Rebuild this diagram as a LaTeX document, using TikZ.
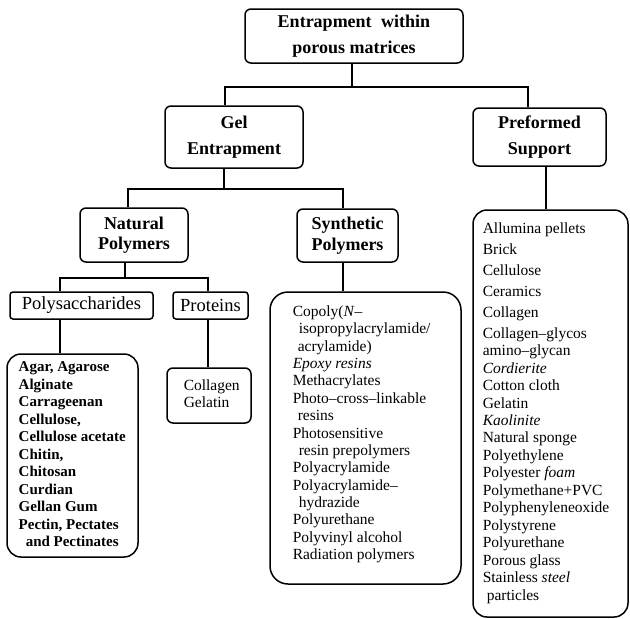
\documentclass[tikz,border=0pt]{standalone}
\usepackage{fontspec}
\setmainfont{Liberation Serif}
\begin{document}
\begin{tikzpicture}[x=1pt,y=-1pt,line width=1.5pt,
  box/.style={draw,rounded corners=6pt,align=center,inner sep=0pt},
  hdr/.style={box,font=\bfseries\fontsize{18}{26}\selectfont},
  hdrtight/.style={box,font=\bfseries\fontsize{18}{20.5}\selectfont},
  subbox/.style={box,rounded corners=3pt,font=\fontsize{18.5}{20}\selectfont},
  listbox/.style={draw,inner sep=0pt},
  listtxt/.style={anchor=north west,inner sep=0pt,align=left,font=\fontsize{15.5}{17.45}\selectfont}]
\useasboundingbox (0,0) rectangle (630,619);

% header boxes
\node[hdr,minimum width=218,minimum height=54] (top) at (354,36) {Entrapment\hspace{5pt} within\\porous matrices};
\node[hdr,minimum width=138,minimum height=62] (gel) at (234,137) {Gel\\Entrapment};
\node[hdr,minimum width=133,minimum height=58] (pre) at (539.5,137) {Preformed\\Support};
\node[hdrtight,minimum width=108,minimum height=54] (nat) at (134,235) {Natural\\Polymers};
\node[hdrtight,minimum width=101,minimum height=53] (syn) at (347.5,235.5) {Synthetic\\Polymers};
\node[subbox,minimum width=143,minimum height=27] (poly) at (81.5,305.5) {Polysaccharides};
\node[subbox,minimum width=75,minimum height=27] (prot) at (210.5,305.5) {Proteins};

% list boxes
\node[listbox,rounded corners=14pt,minimum width=131,minimum height=203] (agarbox) at (72.5,455.5) {};
\node[listbox,rounded corners=6pt,minimum width=84,minimum height=55] (protbox) at (209,395.5) {};
\node[listbox,rounded corners=18pt,minimum width=191,minimum height=292] (synbox) at (365.5,438) {};
\node[listbox,rounded corners=14pt,minimum width=155,minimum height=407] (prebox) at (550.5,413.5) {};

% list texts
\node[listtxt,font=\bfseries\fontsize{15}{17.5}\selectfont] (agartxt) at (18,361) {Agar, Agarose\\Alginate\\Carrageenan\\Cellulose,\\Cellulose acetate\\Chitin,\\Chitosan\\Curdian\\Gellan Gum\\Pectin, Pectates\\\hspace{7pt}and Pectinates};
\node[listtxt] (prottxt) at (183,379) {Collagen\\Gelatin};
\node[listtxt,font=\fontsize{15.5}{17.36}\selectfont] (syntxt) at (292,305) {Copoly(\textit{N}--\\\hspace{6pt}isopropylacrylamide/\\\hspace{5pt}acrylamide)\\\textit{Epoxy resins}\\Methacrylates\\Photo--cross--linkable\\\hspace{5pt}resins\\Photosensitive\\\hspace{6pt}resin prepolymers\\Polyacrylamide\\Polyacrylamide--\\\hspace{6pt}hydrazide\\Polyurethane\\Polyvinyl alcohol\\Radiation polymers};
\node[listtxt] (pretxt) at (482,222) {Allumina pellets\\[3.5pt]Brick\\[3.5pt]Cellulose\\[3.5pt]Ceramics\\[3.5pt]Collagen\\[3.5pt]Collagen--glycos\\amino--glycan\\\textit{Cordierite}\\Cotton cloth\\Gelatin\\\textit{Kaolinite}\\Natural sponge\\Polyethylene\\Polyester \textit{foam}\\Polymethane+PVC\\Polyphenyleneoxide\\Polystyrene\\Polyurethane\\Porous glass\\Stainless \textit{steel}\\\hspace{4pt}particles};

% junction coordinates
\coordinate (jt) at (352,87);
\coordinate (jg) at (225,87);
\coordinate (jp) at (528,87);
\coordinate (gs) at (224,189);
\coordinate (jn) at (128,189);
\coordinate (js) at (343,189);
\coordinate (ns) at (125,278);
\coordinate (pl) at (60,278);
\coordinate (pr) at (208,278);
\coordinate (ps) at (546,0);

% connectors
\draw (jt |- top.south) -- (jt);
\draw (jg |- gel.north) -- (jg) -- (jp) -- (jp |- pre.north);
\draw (gs |- gel.south) -- (gs);
\draw (jn |- nat.north) -- (jn) -- (js) -- (js |- syn.north);
\draw (ns |- nat.south) -- (ns);
\draw (pl |- poly.north) -- (pl) -- (pr) -- (pr |- prot.north);
\draw (pl |- poly.south) -- (pl |- agarbox.north);
\draw (pr |- prot.south) -- (pr |- protbox.north);
\draw (js |- syn.south) -- (js |- synbox.north);
\draw (ps |- pre.south) -- (ps |- prebox.north);
\end{tikzpicture}
\end{document}
